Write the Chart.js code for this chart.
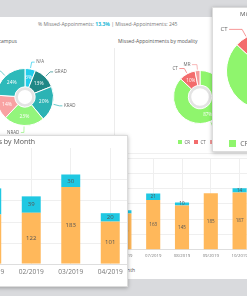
<!DOCTYPE html>
<html>
<head>
<meta charset="utf-8">
<script src="https://cdn.jsdelivr.net/npm/chart.js@4.4.1/dist/chart.umd.min.js"></script>
<style>
  body { margin: 0; width: 247px; height: 296px; overflow: hidden; background: #d9dadd; position: relative; font-family: "Open Sans", sans-serif; color: #666; }
  .abs { position: absolute; }
  #page { left: 0; top: 17px; width: 247px; height: 262px; background: #fff; }
  .txt { white-space: nowrap; line-height: 1; }
  .card { background: #fff; box-sizing: border-box; border: 1px solid #dcdcdc; box-shadow: 0 1px 4px rgba(0,0,0,0.28); overflow: hidden; }
  .leg span { display: inline-block; vertical-align: middle; }
</style>
</head>
<body>
<div id="page" class="abs"></div>

<div class="abs txt" style="left:38px;top:22px;font-size:5px;color:#777">% Missed-Appoinments: <b style="color:#1bb8d6">13.3%</b> | Missed-Appointments: 245</div>
<div class="abs txt" style="left:-100px;width:117px;text-align:right;top:39px;font-size:5px;color:#555">Missed-Appointments by campus</div>
<div class="abs txt" style="left:118px;top:39px;font-size:5px;color:#555">Missed-Appointments by modality</div>
<div class="abs" style="left:114px;top:48px;width:1px;height:90px;background:#ececec"></div>
<div class="abs" style="left:114px;top:153px;width:140px;height:1px;background:#f0f0f0"></div>
<div class="abs txt" style="left:-60px;width:195px;text-align:right;top:268px;font-size:5px;color:#555">Missed-Appointments by Month</div>

<canvas id="campus" class="abs" width="130" height="90" style="left:-40px;top:52px"></canvas>
<canvas id="modality" class="abs" width="100" height="90" style="left:150px;top:52px"></canvas>
<div id="modLegend" class="abs txt leg" style="left:178px;top:139px;font-size:4.5px;color:#666"></div>
<canvas id="monthBg" class="abs" width="144" height="103" style="left:110px;top:158px"></canvas>

<div class="abs card" style="left:-10px;top:135px;width:138px;height:152px">
  <div class="abs txt" style="left:-100px;width:144px;text-align:right;top:2px;font-size:7px;color:#555">Missed-Appointments by Month</div>
  <canvas id="monthFront" class="abs" width="158" height="132" style="left:-19px;top:12px"></canvas>
</div>

<div class="abs card" style="left:212px;top:7px;width:80px;height:145px">
  <div class="abs txt" style="left:27px;top:3px;font-size:6px;color:#555">Missed-Appointments by modality</div>
  <canvas id="modalityBig" class="abs" width="100" height="100" style="left:2px;top:13px"></canvas>
  <div id="bigLegend" class="abs txt leg" style="left:16px;top:131px;font-size:7px;color:#666"></div>
</div>

<script>
// campus doughnut (percent)
const campusLabels = ['N/A', 'GRAD', 'KRAD', 'NRAD', 'DRAD', 'MAIN'];
const campusValues = [6, 13, 20, 23, 14, 24];
const campusColors = ['#22cdec', '#1f8786', '#2cb3b4', '#93f57c', '#f8a2a2', '#2dbaba'];

// modality doughnut (percent)
const modalityLabels = ['CR', 'CT', 'MR'];
const modalityValues = [87, 10, 3];
const modalityColors = ['#8ff56d', '#f36c6c', '#f59a9a'];

// monthly bars
const frontMonths = ['01/2019', '02/2019', '03/2019', '04/2019'];
const frontAttended = [118, 122, 183, 101];
const frontMissed = [62, 39, 30, 20];
const bgMonths = ['06/2019', '07/2019', '08/2019', '09/2019', '10/2019'];
const bgAttended = [119, 163, 145, 185, 187];
const bgMissed = [10, 21, 10, 0, 14];

const ORANGE = '#ffb85b';
const TEAL = '#20c8e2';
const FONT = '"Open Sans", sans-serif';

// percent text inside the slices + leader-line labels outside
const sliceText = {
  id: 'sliceText',
  afterDatasetsDraw(chart, args, o) {
    const ctx = chart.ctx;
    const meta = chart.getDatasetMeta(0);
    const data = chart.data.datasets[0].data;
    const total = data.reduce((a, b) => a + b, 0);
    ctx.save();
    meta.data.forEach((arc, i) => {
      const p = arc.getProps(['x', 'y', 'startAngle', 'endAngle', 'innerRadius', 'outerRadius'], true);
      const mid = (p.startAngle + p.endAngle) / 2;
      const cx = Math.cos(mid), cy = Math.sin(mid);
      if (o.inner && data[i] / total >= 0.05) {
        const r = (p.innerRadius + p.outerRadius) / 2;
        ctx.font = o.inner + 'px ' + FONT;
        ctx.fillStyle = '#fff';
        ctx.textAlign = 'center';
        ctx.textBaseline = 'middle';
        ctx.fillText(Math.round(data[i] / total * 100) + '%', p.x + cx * r, p.y + cy * r);
      }
      if (o.outer && (!o.only || o.only.includes(i))) {
        const x1 = p.x + cx * (p.outerRadius + 1), y1 = p.y + cy * (p.outerRadius + 1);
        const x2 = p.x + cx * (p.outerRadius + o.ext), y2 = p.y + cy * (p.outerRadius + o.ext);
        const side = cx >= 0 ? 1 : -1;
        const x3 = x2 + side * o.h;
        ctx.strokeStyle = chart.data.datasets[0].backgroundColor[i];
        ctx.lineWidth = 0.7;
        ctx.beginPath();
        ctx.moveTo(x1, y1);
        ctx.lineTo(x2, y2);
        ctx.lineTo(x3, y2);
        ctx.stroke();
        ctx.font = o.outer + 'px ' + FONT;
        ctx.fillStyle = '#666';
        ctx.textAlign = side > 0 ? 'left' : 'right';
        ctx.textBaseline = 'middle';
        ctx.fillText(chart.data.labels[i], x3 + side * 1.5, y2);
      }
    });
    ctx.restore();
  }
};

// value text in the middle of each bar segment
const barText = {
  id: 'barText',
  afterDatasetsDraw(chart, args, o) {
    const ctx = chart.ctx;
    ctx.save();
    ctx.font = o.size + 'px ' + FONT;
    ctx.fillStyle = '#555';
    ctx.textAlign = 'center';
    ctx.textBaseline = 'middle';
    chart.data.datasets.forEach((ds, di) => {
      chart.getDatasetMeta(di).data.forEach((bar, i) => {
        const v = ds.data[i];
        if (!v) return;
        const p = bar.getProps(['x', 'y', 'base'], true);
        ctx.fillText(v, p.x, (p.y + p.base) / 2);
      });
    });
    ctx.restore();
  }
};

function doughnut(id, labels, values, colors, padding, cutout, ring, textOpts) {
  const datasets = [{ data: values, backgroundColor: colors, borderColor: '#fff', borderWidth: 1, weight: ring ? ring[0] : 1 }];
  if (ring) datasets.push({ data: [1], backgroundColor: ['#e4e4e4'], borderWidth: 0, weight: ring[1] });
  new Chart(document.getElementById(id), {
    type: 'doughnut',
    data: { labels: labels, datasets: datasets },
    options: {
      responsive: false,
      animation: false,
      cutout: cutout,
      layout: { padding: padding },
      plugins: { legend: { display: false }, tooltip: { enabled: false }, sliceText: textOpts }
    },
    plugins: [sliceText]
  });
}

doughnut('campus', campusLabels, campusValues, campusColors, 16, '25%', [18, 3], { inner: 5, outer: 4.5, ext: 7, h: 3 });
doughnut('modality', modalityLabels, modalityValues, modalityColors, 18, '33%', [5, 1], { inner: 4.5, outer: 4.5, ext: 6, h: 5 });
doughnut('modalityBig', modalityLabels, modalityValues, modalityColors, 11, '33%', null, { outer: 6, ext: 9, h: 13, only: [1] });

function legend(id, sq, gap) {
  document.getElementById(id).innerHTML = modalityLabels.map((l, i) =>
    `<span style="width:${sq}px;height:${sq}px;background:${modalityColors[i]};margin-right:${sq * 0.6}px"></span><span style="margin-right:${gap}px">${l}</span>`
  ).join('');
}
legend('modLegend', 4, 4);
legend('bigLegend', 7, 6);

function bars(id, labels, attended, missed, tickSize, textSize, barPct, tickPad, yMax) {
  new Chart(document.getElementById(id), {
    type: 'bar',
    data: {
      labels: labels,
      datasets: [
        { data: attended, backgroundColor: ORANGE, barPercentage: barPct, categoryPercentage: 1 },
        { data: missed, backgroundColor: TEAL, barPercentage: barPct, categoryPercentage: 1 }
      ]
    },
    options: {
      responsive: false,
      animation: false,
      layout: { padding: 0 },
      plugins: { legend: { display: false }, tooltip: { enabled: false }, barText: { size: textSize } },
      scales: {
        x: {
          stacked: true,
          grid: { offset: false, color: '#efefef', drawTicks: false },
          border: { color: '#dedede' },
          ticks: { font: { size: tickSize, family: FONT }, color: '#777', padding: tickPad, maxRotation: 0, autoSkip: false }
        },
        y: {
          stacked: true,
          min: 0,
          max: yMax,
          grid: { color: c => (c.tick && c.tick.value % 50 === 0) ? '#efefef' : 'rgba(0,0,0,0)', drawTicks: false },
          border: { display: false },
          ticks: { display: false, stepSize: 50 }
        }
      }
    },
    plugins: [barText]
  });
}

bars('monthFront', frontMonths, frontAttended, frontMissed, 6.6, 6, 0.48, 4, 276);
bars('monthBg', bgMonths, bgAttended, bgMissed, 4.3, 4.6, 0.49, 3, 300);
</script>
</body>
</html>
